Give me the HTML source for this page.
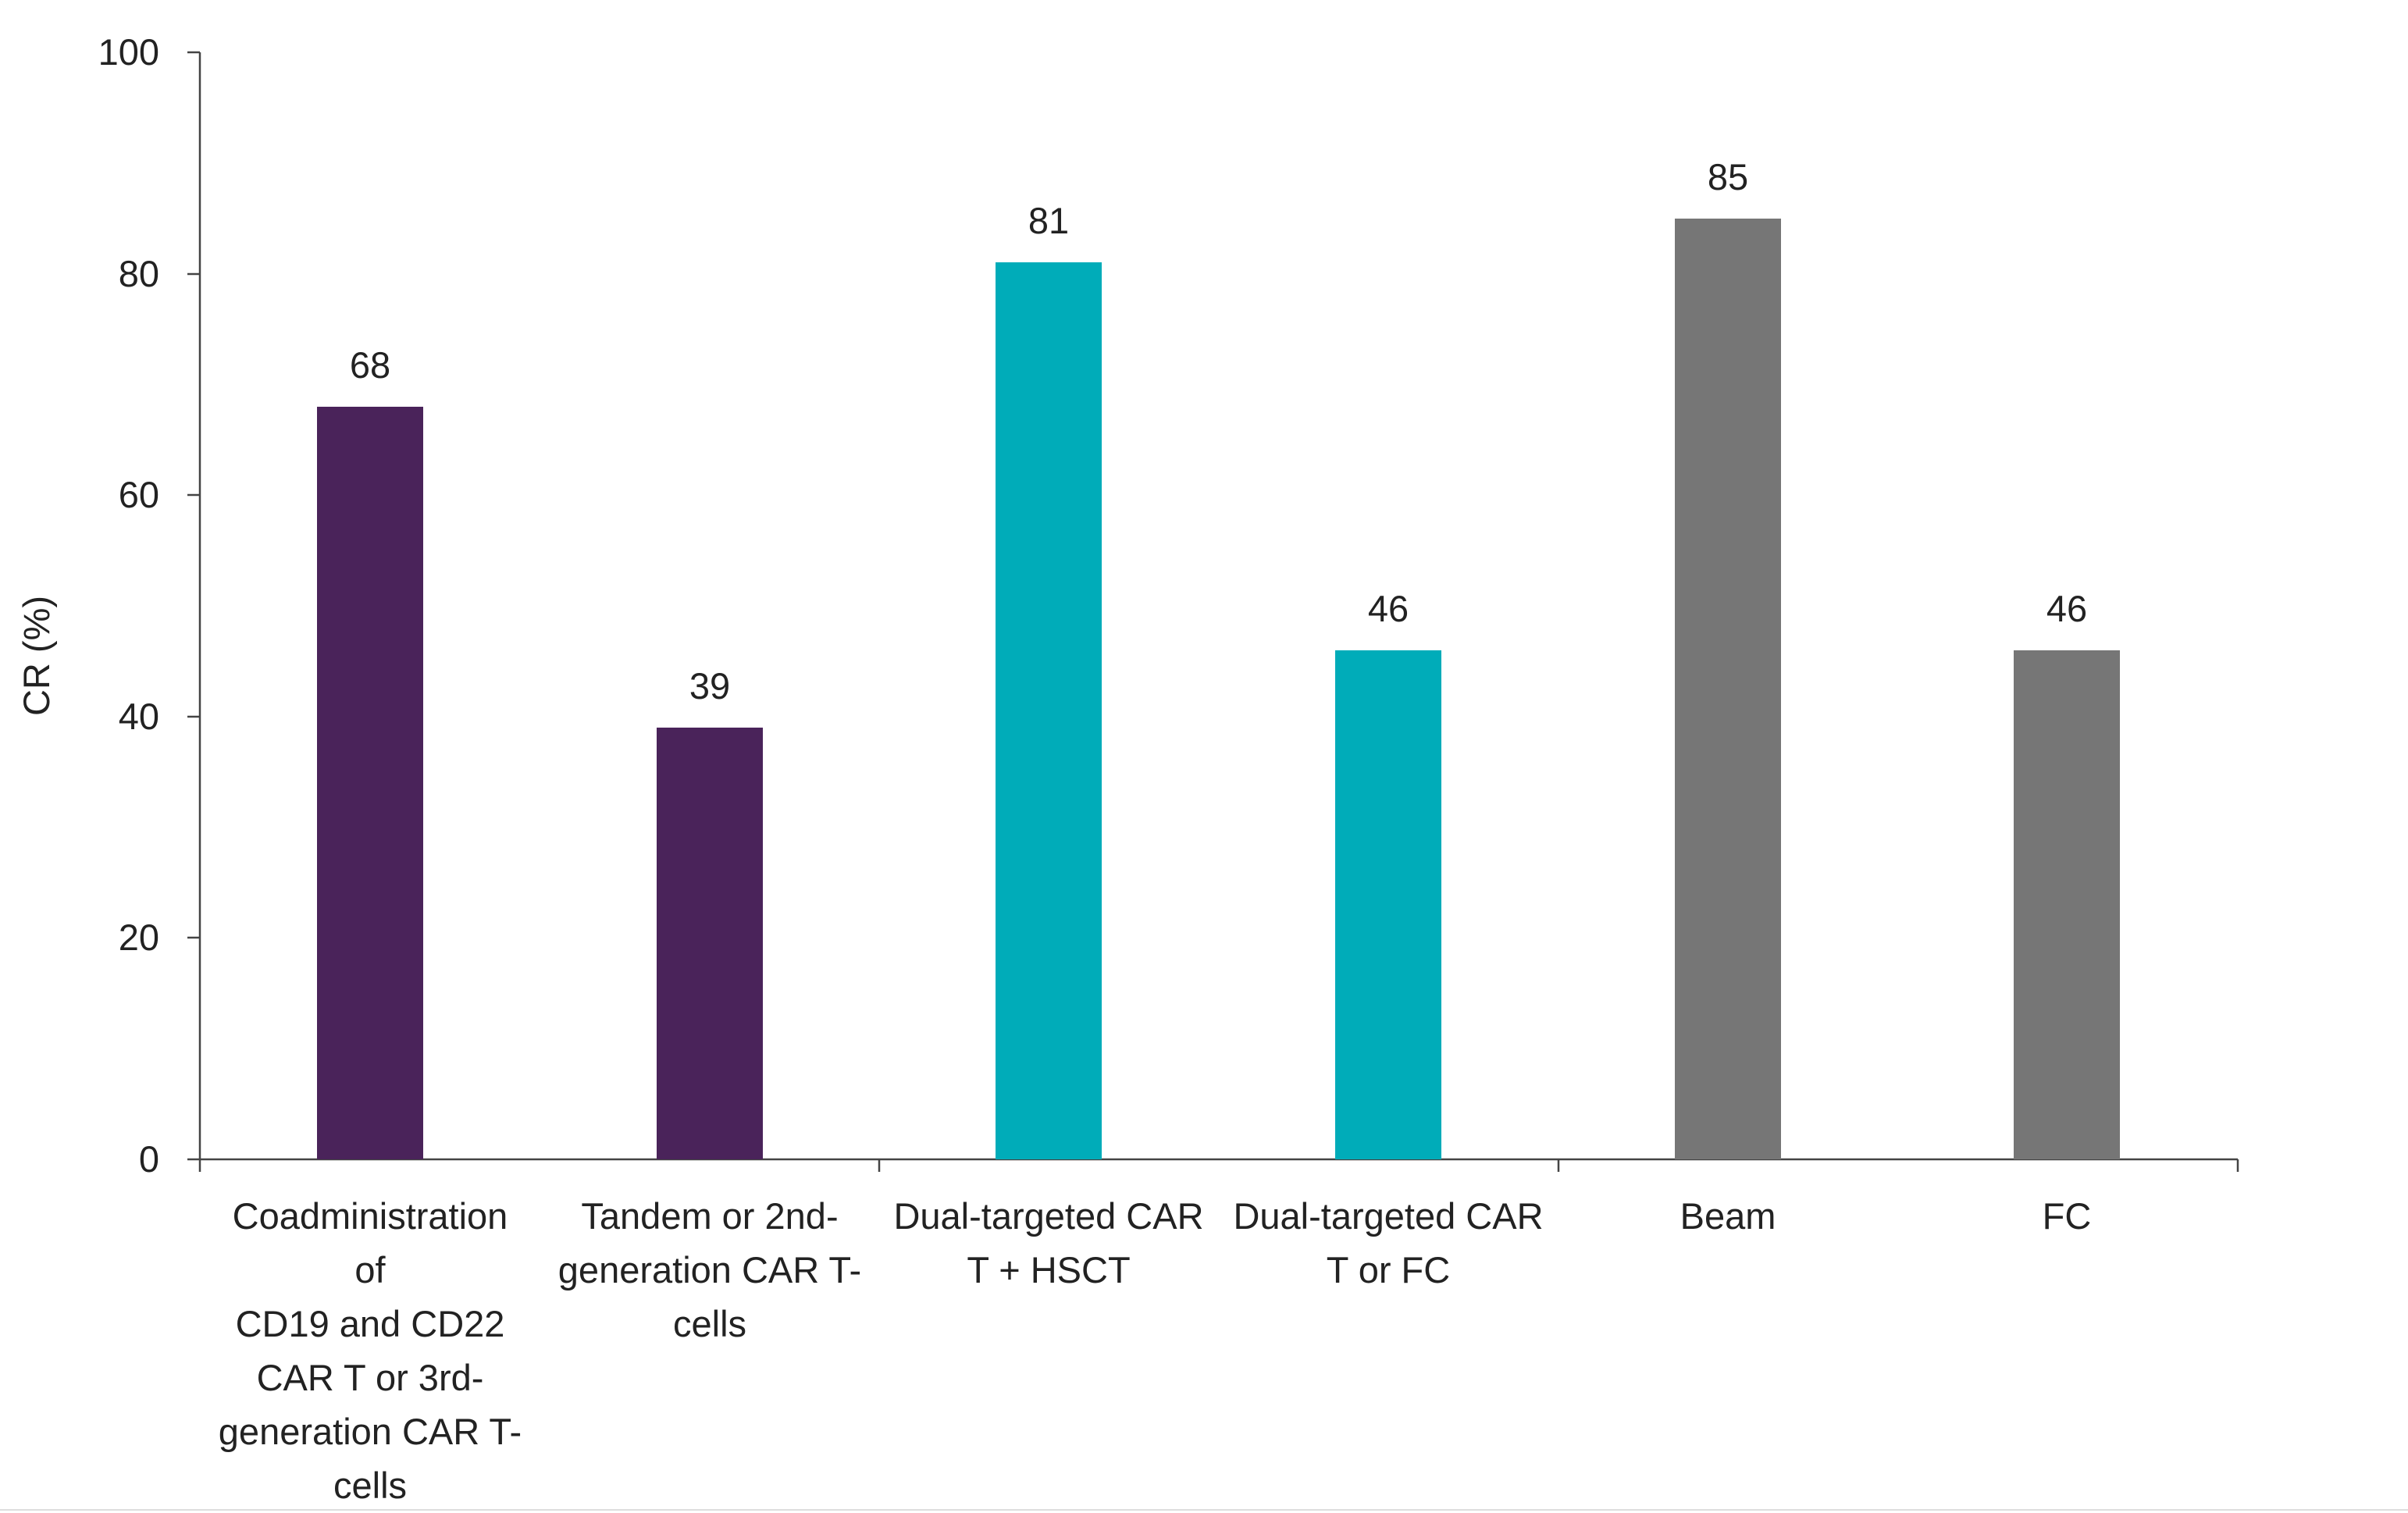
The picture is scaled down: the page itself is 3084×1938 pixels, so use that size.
<!DOCTYPE html>
<html><head><meta charset="utf-8"><style>
html,body{margin:0;padding:0;background:#fff;}
svg{display:block;}
text{font-family:"Liberation Sans",sans-serif;fill:#222;}
</style></head><body>
<svg width="3084" height="1938" viewBox="0 0 3084 1938" xmlns="http://www.w3.org/2000/svg">
<rect width="3084" height="1938" fill="#fff"/>
<g stroke="#444" stroke-width="2.5" fill="none">
<line x1="256" y1="67" x2="256" y2="1485"/>
<line x1="256" y1="1485" x2="2866" y2="1485"/>
<line x1="240" y1="67" x2="256" y2="67"/>
<line x1="240" y1="351" x2="256" y2="351"/>
<line x1="240" y1="634" x2="256" y2="634"/>
<line x1="240" y1="918" x2="256" y2="918"/>
<line x1="240" y1="1201" x2="256" y2="1201"/>
<line x1="240" y1="1485" x2="256" y2="1485"/>
<line x1="256" y1="1485" x2="256" y2="1501"/>
<line x1="1126" y1="1485" x2="1126" y2="1501"/>
<line x1="1996" y1="1485" x2="1996" y2="1501"/>
<line x1="2866" y1="1485" x2="2866" y2="1501"/>
</g>
<line x1="0" y1="1934" x2="3084" y2="1934" stroke="#ddd" stroke-width="2"/>
<g font-size="47" text-anchor="end">
<text x="204" y="83">100</text>
<text x="204" y="367">80</text>
<text x="204" y="650">60</text>
<text x="204" y="934">40</text>
<text x="204" y="1217">20</text>
<text x="204" y="1501">0</text>
</g>
<text x="63" y="840" font-size="47" text-anchor="middle" transform="rotate(-90 63 840)">CR (%)</text>
<rect x="406" y="521" width="136" height="964" fill="#4a235a"/>
<rect x="841" y="932" width="136" height="553" fill="#4a235a"/>
<rect x="1275" y="336" width="136" height="1149" fill="#00acb9"/>
<rect x="1710" y="833" width="136" height="652" fill="#00acb9"/>
<rect x="2145" y="280" width="136" height="1205" fill="#767676"/>
<rect x="2579" y="833" width="136" height="652" fill="#767676"/>
<g font-size="47" text-anchor="middle">
<text x="474" y="484">68</text>
<text x="909" y="895">39</text>
<text x="1343" y="299">81</text>
<text x="1778" y="796">46</text>
<text x="2213" y="243">85</text>
<text x="2647" y="796">46</text>
</g>
<g font-size="47" text-anchor="middle">
<text x="474" y="1574">Coadministration</text>
<text x="474" y="1643">of</text>
<text x="474" y="1712">CD19 and CD22</text>
<text x="474" y="1781">CAR T or 3rd-</text>
<text x="474" y="1850">generation CAR T-</text>
<text x="474" y="1919">cells</text>
<text x="909" y="1574">Tandem or 2nd-</text>
<text x="909" y="1643">generation CAR T-</text>
<text x="909" y="1712">cells</text>
<text x="1343" y="1574">Dual-targeted CAR</text>
<text x="1343" y="1643">T + HSCT</text>
<text x="1778" y="1574">Dual-targeted CAR</text>
<text x="1778" y="1643">T or FC</text>
<text x="2213" y="1574">Beam</text>
<text x="2647" y="1574">FC</text>
</g>
</svg>
</body></html>
